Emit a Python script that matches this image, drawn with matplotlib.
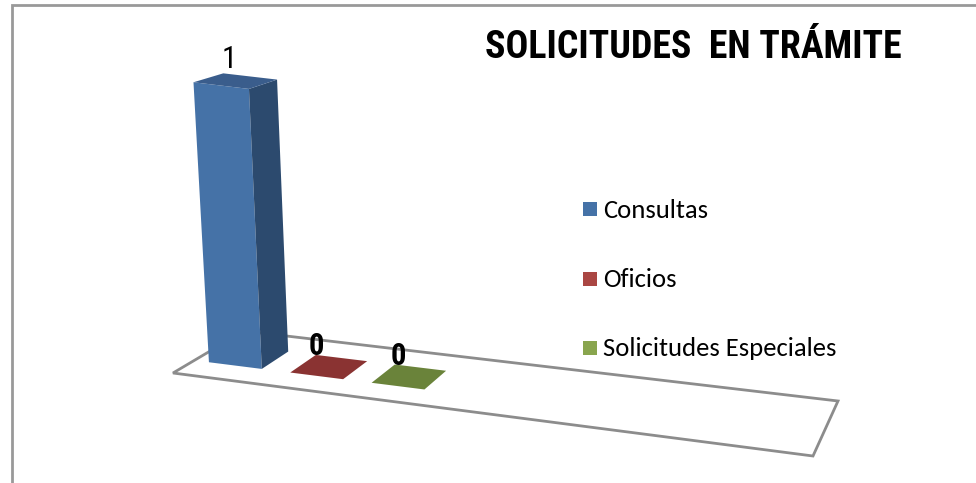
import numpy as np
import matplotlib
matplotlib.use("Agg")
import matplotlib.pyplot as plt
from matplotlib import font_manager

## DATA

categories = ["Consultas", "Oficios", "Solicitudes Especiales"]
values = [1, 0, 0]
value_labels = ["1", "0", "0"]

front_colors = ["#4572A7", "#AA4643", "#89A54E"]
side_colors = ["#2C4A6E", "#7A302F", "#5E7335"]
top_colors = ["#3A5D8C", "#8A3332", "#6A833A"]

## FONTS

installed = {f.name for f in font_manager.fontManager.ttflist}

def pick(*names):
    for n in names:
        if n in installed:
            return n
    return "DejaVu Sans"

narrow = pick("Roboto Condensed", "PT Sans Narrow", "Liberation Sans")
body = pick("Carlito", "Lato", "DejaVu Sans")

## PERSPECTIVE FLOOR

W, H = 976, 483
fig = plt.figure(figsize=(W / 100, H / 100), dpi=100)
ax = fig.add_axes([0, 0, 1, 1])
ax.set_xlim(0, W)
ax.set_ylim(H, 0)
ax.axis("off")

# floor corners: front-left, front-right, back-right, back-left
floor = np.array([[173, 373], [813, 456], [838, 401], [244, 331]], dtype=float)
n_slots = 7.7
unit_px = 286.0
vanish = np.array([520.0, 6000.0])


def ground(u, t):
    s = u / n_slots
    A, B, C, D = floor
    return (1 - s) * (1 - t) * A + s * (1 - t) * B + s * t * C + (1 - s) * t * D


def project(u, t, h):
    x0, y0 = ground(u, t)
    hp = h * unit_px * (1 - 0.07 * t)
    slant = (vanish[0] - x0) / (vanish[1] - y0)
    return (x0 - hp * slant, y0 - hp)


ax.fill(floor[:, 0], floor[:, 1], facecolor="white", edgecolor="#8C8C8C",
        linewidth=2, zorder=1)

t0, t1 = 0.3, 0.7
bar_w = 0.65
for i, (val, lab) in enumerate(zip(values, value_labels)):
    u0 = i + 0.18
    u1 = u0 + bar_w
    top = [project(u0, t0, val), project(u1, t0, val),
           project(u1, t1, val), project(u0, t1, val)]
    if val > 0:
        front = [project(u0, t0, 0), project(u1, t0, 0),
                 project(u1, t0, val), project(u0, t0, val)]
        side = [project(u1, t0, 0), project(u1, t1, 0),
                project(u1, t1, val), project(u1, t0, val)]
        ax.fill(*zip(*front), facecolor=front_colors[i], edgecolor="none", zorder=3)
        ax.fill(*zip(*side), facecolor=side_colors[i], edgecolor="none", zorder=3)
    ax.fill(*zip(*top), facecolor=top_colors[i], edgecolor="none", zorder=3)

    lx, ly = project((u0 + u1) / 2, t0, val)
    if val > 0:
        ax.text(lx + 8, ly - 18, lab, ha="center", va="baseline",
                fontsize=22, family=narrow, color="black", zorder=5)
    else:
        ax.text(lx, ly - 21, lab, ha="center", va="baseline",
                fontsize=22, family=narrow, fontweight="bold",
                color="black", zorder=5)

## TITLE AND LEGEND

ax.text(485, 58, "SOLICITUDES  EN TRÁMITE", ha="left", va="baseline",
        fontsize=27.3, family=narrow, fontweight="bold", color="black")

leg_y = [209, 278.5, 348]
for i, name in enumerate(categories):
    ax.add_patch(plt.Rectangle((583, leg_y[i] - 7), 14, 14,
                               facecolor=front_colors[i], edgecolor="none"))
    ax.text(603, leg_y[i] + 1, name, ha="left", va="center",
            fontsize=19.2, family=body, color="black")

# chart frame (right and bottom edges fall outside the canvas)
ax.plot([12, 12, W + 5], [H + 5, 5, 5], color="#999999", linewidth=2,
        solid_joinstyle="miter", zorder=0)

fig.savefig("out.png", dpi=100)
